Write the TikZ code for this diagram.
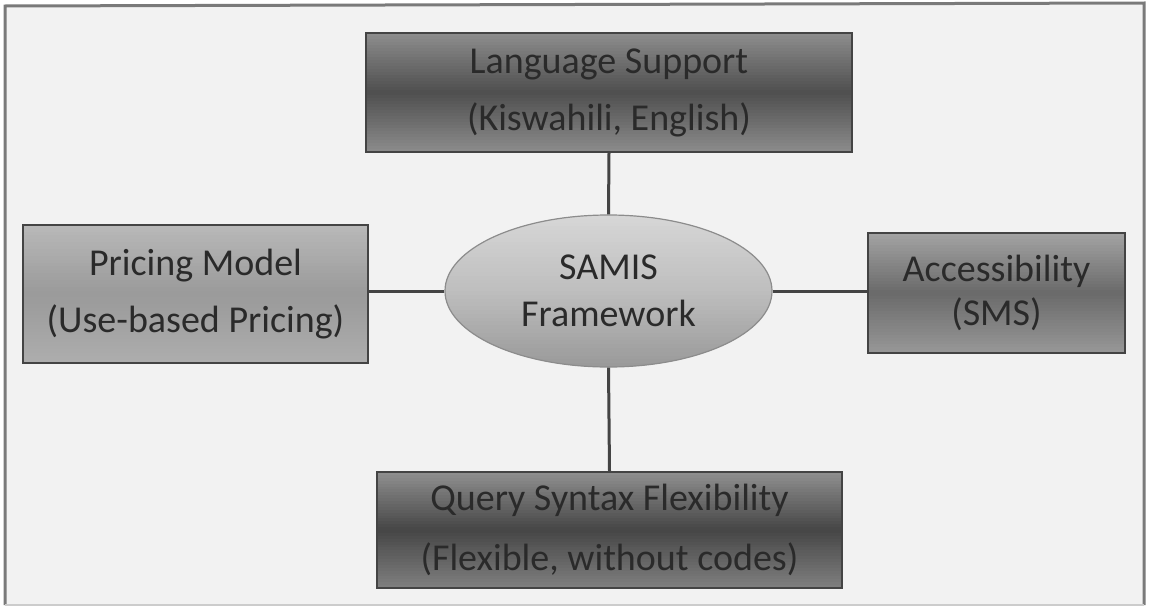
\documentclass[tikz,border=0pt]{standalone}
\usepackage{fontspec}
\setmainfont{Carlito}
\usetikzlibrary{shapes.geometric,calc}
\definecolor{txt}{HTML}{2A2A2A}
\definecolor{edge}{HTML}{444444}
\definecolor{frame}{HTML}{7A7A7A}
\definecolor{dkT}{HTML}{8C8C8C}\definecolor{dkM}{HTML}{4E4E4E}\definecolor{dkB}{HTML}{8A8A8A}
\definecolor{ltT}{HTML}{B8B8B8}\definecolor{ltM}{HTML}{9A9A9A}\definecolor{ltB}{HTML}{ADADAD}
\definecolor{mdT}{HTML}{A2A2A2}\definecolor{mdM}{HTML}{6A6A6A}\definecolor{mdB}{HTML}{969696}
\definecolor{dpT}{HTML}{8E8E8E}\definecolor{dpM}{HTML}{464646}\definecolor{dpB}{HTML}{7E7E7E}
\definecolor{hubT}{HTML}{D6D6D6}\definecolor{hubM}{HTML}{BEBEBE}\definecolor{hubB}{HTML}{9A9A9A}
\tikzset{
  vgrad/.style n args={3}{path picture={
    \foreach \i in {0,...,39}{
      \pgfmathsetmacro\f{ifthenelse(\i<20, (19.5-\i)/19.5*100, (\i-19.5)/19.5*100)}
      \ifnum\i<20 \colorlet{gc}{#1!\f!#2}\else\colorlet{gc}{#3!\f!#2}\fi
      \fill[gc] ($(path picture bounding box.north west)!{\i/40}!(path picture bounding box.south west)$)
        rectangle ($(path picture bounding box.north east)!{(\i+1.1)/40}!(path picture bounding box.south east)$);
    }}},
  boxbase/.style={rectangle, draw=edge, line width=1.8pt, inner sep=0pt, text=txt, align=center,
    font=\fontsize{38}{57}\selectfont},
  darkbox/.style={boxbase, fill=dkM, vgrad={dkT}{dkM}{dkB}},
  midbox/.style={boxbase, fill=mdM, vgrad={mdT}{mdM}{mdB}},
  lightbox/.style={boxbase, fill=ltM, vgrad={ltT}{ltM}{ltB}},
  deepbox/.style={boxbase, fill=dpM, vgrad={dpT}{dpM}{dpB}},
  hub/.style={ellipse, draw=gray!90, line width=1.2pt, inner sep=0pt, text=txt, align=center,
    fill=hubM, vgrad={hubT}{hubM}{hubB},
    font=\fontsize{38}{47}\selectfont},
  link/.style={draw=edge, line width=3pt}
}
\begin{document}
\begin{tikzpicture}[x=1pt,y=-1pt]
\useasboundingbox (0,0) rectangle (1149,608);
\fill[white] (0,0) rectangle (1149,608);
\fill[gray!10] (5,5) rectangle (1144,605);
\draw[frame, line width=3pt] (5,605) -- (5,6) -- (1144,3) -- (1144,605);
\draw[gray!40, line width=2pt] (5,605) -- (1144,605);

\node[darkbox, minimum width=486pt, minimum height=119pt] (lang) at (609,92.5)
  {Language Support\\(Kiswahili, English)};
\node[lightbox, minimum width=345pt, minimum height=138pt] (price) at (195.5,294)
  {Pricing Model\\(Use-based Pricing)};
\node[hub, minimum width=327pt, minimum height=152pt] (samis) at (608.5,291)
  {SAMIS\\Framework};
\node[midbox, minimum width=257pt, minimum height=120pt, font=\fontsize{38}{44}\selectfont] (access) at (996.5,293)
  {Accessibility\\(SMS)};
\node[deepbox, minimum width=465pt, minimum height=116pt, font=\fontsize{38}{60}\selectfont] (query) at (609.5,530)
  {Query Syntax Flexibility\\(Flexible, without codes)};

\draw[link] (lang.south) -- (samis.north);
\draw[link] (price.east |- samis.west) -- (samis.west);
\draw[link] (samis.east) -- (access.west |- samis.east);
\draw[link] (samis.south) -- (query.north);
\end{tikzpicture}
\end{document}
